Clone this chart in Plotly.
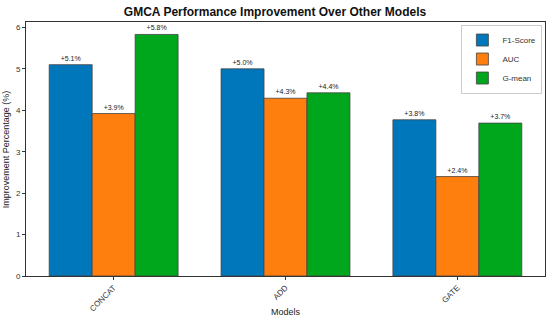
import plotly.graph_objects as go

models = ["CONCAT", "ADD", "GATE"]
f1_score = [5.1, 5.0, 3.77]
auc = [3.92, 4.29, 2.4]
g_mean = [5.83, 4.42, 3.69]
series_names = ["F1-Score", "AUC", "G-mean"]
colors = ["#0077BB", "#FF7F0E", "#00A61C"]

font_family = "Liberation Sans, Arial, sans-serif"

fig = go.Figure()
for name, vals, col in zip(series_names, [f1_score, auc, g_mean], colors):
    fig.add_trace(go.Bar(
        x=models, y=vals, name=name,
        marker=dict(color=col, line=dict(color="#444444", width=0.8)),
        text=[f"+{v:.1f}%" for v in vals],
        textposition="outside",
        textfont=dict(size=7, color="#222222", family=font_family),
        constraintext="none",
        cliponaxis=False,
    ))

fig.update_layout(
    width=550, height=324,
    margin=dict(l=26, r=5, t=22, b=48, autoexpand=False),
    paper_bgcolor="white", plot_bgcolor="white",
    barmode="group", bargap=0.25, bargroupgap=0,
    font=dict(family=font_family, size=9, color="#333333"),
    title=dict(text="<b>GMCA Performance Improvement Over Other Models</b>",
               x=0.5, xanchor="center", y=0.965, yanchor="middle",
               font=dict(size=12, color="#111111")),
    legend=dict(x=0.995, y=0.99, xanchor="right", yanchor="top",
                bordercolor="#CCCCCC", borderwidth=1, bgcolor="white",
                font=dict(size=8), tracegroupgap=0, itemwidth=30),
    showlegend=True,
    annotations=[
        dict(text="Models", xref="paper", yref="paper", x=0.5, y=-0.143,
             xanchor="center", yanchor="middle", showarrow=False,
             font=dict(size=9, color="#222222")),
        dict(text="Improvement Percentage (%)", xref="paper", yref="paper",
             x=-0.038, y=0.5, xanchor="center", yanchor="middle", textangle=-90,
             showarrow=False, font=dict(size=9, color="#222222")),
    ],
)
fig.update_xaxes(
    range=[-0.51, 2.51], showline=True, linecolor="#333333", linewidth=1, mirror=True,
    ticks="outside", ticklen=3, tickcolor="#333333", tickangle=-45,
    tickfont=dict(size=8), showgrid=False, automargin=False,
)
fig.update_yaxes(
    range=[0, 6.13], showline=True, linecolor="#333333", linewidth=1, mirror=True,
    ticks="outside", ticklen=3, tickcolor="#333333", dtick=1,
    tickfont=dict(size=8), showgrid=False, zeroline=False, automargin=False,
)

fig.write_html("out.html", config={"displayModeBar": False},
               post_script="document.body.style.margin='0';")
